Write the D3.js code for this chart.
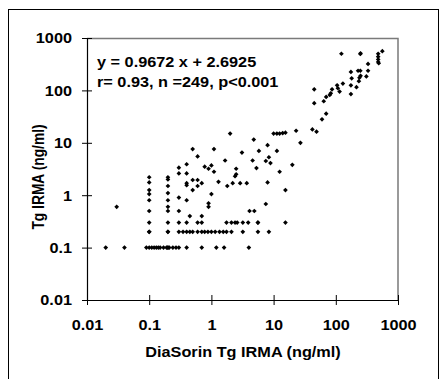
<!DOCTYPE html>
<html>
<head>
<meta charset="utf-8">
<script src="https://cdn.jsdelivr.net/npm/d3@7"></script>
<style>
  body { margin: 0; background: #fff; }
  svg text { font-family: Arial, "Liberation Sans", sans-serif; font-weight: bold; fill: #000; }
</style>
</head>
<body>
<div id="chart"></div>
<script>
'use strict';

// Axis ticks (log scale, both axes)
const tickValues = [0.01, 0.1, 1, 10, 100, 1000];
const tickLabels = ['0.01', '0.1', '1', '10', '100', '1000'];

const xTitle = 'DiaSorin Tg IRMA (ng/ml)';
const yTitle = 'Tg IRMA (ng/ml)';
const equationText = 'y = 0.9672 x + 2.6925';
const statsText = 'r= 0.93, n =249, p<0.001';

// [DiaSorin, Tg IRMA] pairs
// rows at the detection floor (y <= 1)
const lowPoints = [
    [0.02, 0.1], [0.04, 0.1], [0.09, 0.1], [0.1, 0.1], [0.11, 0.1], [0.12, 0.1], [0.13, 0.1],
    [0.14, 0.1], [0.15, 0.1], [0.17, 0.1], [0.19, 0.1], [0.2, 0.1], [0.2, 0.1], [0.21, 0.1],
    [0.24, 0.1], [0.27, 0.1], [0.3, 0.1], [0.4, 0.1], [0.7, 0.1], [1.2, 0.1], [1.6, 0.1], [4, 0.1],
    [0.1, 0.2], [0.1, 0.2], [0.2, 0.2], [0.2, 0.2], [0.3, 0.2], [0.35, 0.2], [0.4, 0.2], [0.45, 0.2],
    [0.5, 0.2], [0.6, 0.2], [0.7, 0.2], [0.78, 0.2], [0.88, 0.2], [1.0, 0.2], [1.15, 0.2],
    [1.35, 0.2], [1.55, 0.2], [1.75, 0.2], [2.1, 0.2], [3.2, 0.2], [5.6, 0.2], [8.4, 0.2],
    [0.1, 0.3], [0.2, 0.3], [0.3, 0.3], [0.4, 0.3], [0.6, 0.3], [0.7, 0.3], [1.75, 0.3], [2.1, 0.3],
    [2.4, 0.3], [2.6, 0.3], [3.2, 0.3], [3.9, 0.3], [5.6, 0.3], [5.6, 0.3], [15.5, 0.3],
    [0.45, 0.4], [0.7, 0.4],
    [0.1, 0.5], [0.2, 0.5], [0.3, 0.5], [4.1, 0.5], [4.9, 0.5],
    [0.03, 0.6], [0.2, 0.6], [0.9, 0.6], [0.9, 0.7], [7.5, 0.68],
    [0.1, 0.8], [0.2, 0.8], [0.4, 0.8], [0.3, 0.9]
];

// middle of the cloud
const midPoints = [
    [0.1, 1.05], [0.1, 1.25], [0.1, 1.75], [0.1, 2.2],
    [0.2, 1.1], [0.2, 1.5], [0.2, 2.0], [0.2, 2.2],
    [0.3, 2.6], [0.3, 3.35], [0.4, 1.55], [0.4, 1.7], [0.4, 2.6], [0.4, 3.9],
    [0.5, 7.6], [0.6, 5.5], [0.5, 1.95], [0.6, 1.95], [0.5, 1.25], [0.6, 1.5], [0.7, 1.7],
    [0.78, 3.5], [0.9, 3.2], [1.0, 3.7], [1.1, 2.8], [1.1, 7.6], [1.0, 1.05], [1.3, 1.8],
    [1.66, 4.6], [1.8, 1.5], [2.0, 15], [2.2, 1.7], [2.9, 1.7], [3.7, 1.7], [2.4, 2.3],
    [2.5, 2.5], [2.5, 3.2], [3.1, 6.5], [4.6, 4.6], [5.3, 3.3], [5.8, 7], [4.8, 11.5],
    [8, 9], [7.5, 4.5], [8.4, 5.3], [8.9, 4.1], [8, 1.75], [11.3, 7], [12.5, 2.8],
    [15.5, 1.25], [20, 3.8], [10, 15], [11.3, 15], [12.5, 15], [14, 15.3], [15.5, 15.6],
    [23, 17], [27, 10]
];

// upper right
const highPoints = [
    [42, 18], [49, 16.3], [60, 28], [70, 36], [45, 57], [45, 105], [64, 62], [70, 75],
    [80, 82], [83, 88], [87, 105], [105, 125], [108, 110], [115, 95], [130, 135], [175, 85],
    [175, 125], [215, 115], [235, 150], [180, 170], [240, 175], [250, 190], [310, 185],
    [175, 225], [228, 237], [248, 237], [330, 237], [330, 320], [123, 500], [248, 495],
    [250, 510], [480, 500], [480, 440], [480, 390], [480, 350], [490, 330], [560, 560]
];

const width = 439, height = 379;
const plot = { left: 87, right: 398, top: 38, bottom: 300 };
const stretch = 1.18; // text in the picture is drawn wide

const svg = d3.select('#chart').append('svg')
    .attr('width', width)
    .attr('height', height);

// outer frame (bottom edge runs off the picture)
svg.append('rect')
    .attr('x', 8.5).attr('y', 9.5)
    .attr('width', 430).attr('height', 400)
    .attr('fill', 'none').attr('stroke', '#000').attr('stroke-width', 1);

const x = d3.scaleLog().domain([0.01, 1000]).range([plot.left, plot.right]);
const y = d3.scaleLog().domain([0.01, 1000]).range([plot.bottom, plot.top]);

// plot area top and right borders
svg.append('path')
    .attr('d', `M${plot.left},${plot.top + 0.5}H${plot.right}V${plot.bottom}`)
    .attr('fill', 'none').attr('stroke', '#7a7a7a').attr('stroke-width', 1.5);

const fmt = d => tickLabels[tickValues.indexOf(d)];

const axisX = svg.append('g')
    .attr('transform', `translate(0, ${plot.bottom})`)
    .call(d3.axisBottom(x).tickValues(tickValues).tickFormat(fmt).tickSizeOuter(0));

const axisY = svg.append('g')
    .attr('transform', `translate(${plot.left}, 0)`)
    .call(d3.axisLeft(y).tickValues(tickValues).tickFormat(fmt).tickSizeOuter(0));

[axisX, axisY].forEach(a => {
    a.select('.domain').attr('stroke', '#000').attr('stroke-width', 1.2);
    a.selectAll('.tick line').attr('stroke', '#000');
    a.selectAll('.tick text')
        .attr('font-size', 13.8)
        .attr('font-family', 'Arial, "Liberation Sans", sans-serif')
        .attr('font-weight', 'bold')
        .attr('fill', '#000');
});

// ticks cross the axis lines
axisX.selectAll('.tick line').attr('y1', -5).attr('y2', 5);
axisY.selectAll('.tick line').attr('x1', -5).attr('x2', 5);

axisX.selectAll('.tick text')
    .attr('y', 0).attr('dy', 0)
    .attr('transform', `translate(0, 30) scale(${stretch}, 1)`);

axisY.selectAll('.tick text')
    .attr('x', 0).attr('dy', '0.36em')
    .attr('transform', `translate(-15, 0) scale(${stretch}, 1)`);

// axis titles
svg.append('text')
    .attr('transform', `translate(${(plot.left + plot.right) / 2 + 0.5}, 357) scale(${stretch}, 1)`)
    .attr('text-anchor', 'middle')
    .attr('font-size', 13.8)
    .text(xTitle);

svg.append('text')
    .attr('transform', `translate(44, ${(plot.top + plot.bottom) / 2 + 8}) scale(${stretch}, 1) rotate(-90)`)
    .attr('text-anchor', 'middle')
    .attr('font-size', 13.8)
    .text(yTitle);

// regression note
svg.append('text')
    .attr('transform', `translate(97, 66.5) scale(${stretch}, 1)`)
    .attr('font-size', 13.8)
    .text(equationText);

svg.append('text')
    .attr('transform', `translate(97, 86.5) scale(${stretch}, 1)`)
    .attr('font-size', 13.8)
    .text(statsText);

// markers
const allPoints = lowPoints.concat(midPoints, highPoints);
const marker = d3.symbol().type(d3.symbolSquare).size(11);

svg.append('g')
    .selectAll('path.point')
    .data(allPoints)
    .join('path')
    .classed('point', true)
    .attr('d', marker)
    .attr('transform', d => `translate(${x(d[0])}, ${y(d[1])}) rotate(45)`)
    .attr('fill', '#000');
</script>
</body>
</html>
